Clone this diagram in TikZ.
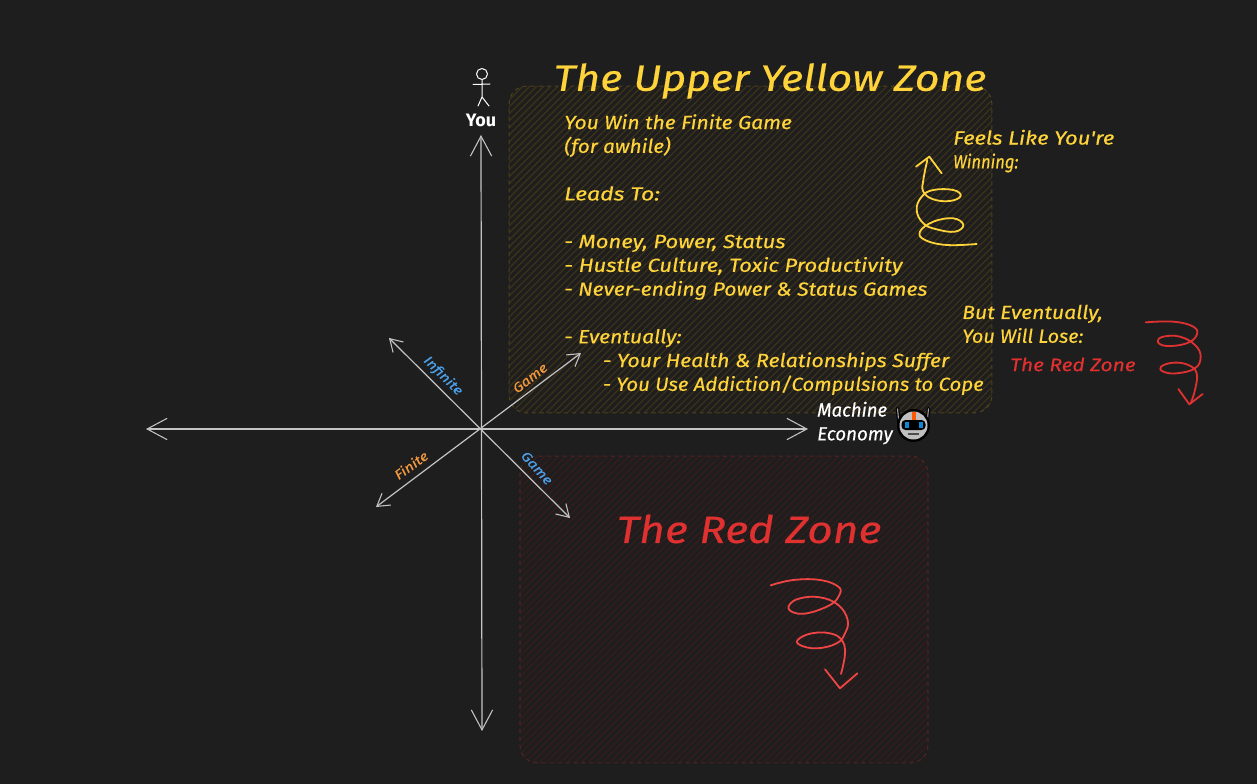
\documentclass[tikz,border=0pt]{standalone}
\usepackage{graphicx}
\usepackage{fontspec}
\setmainfont{Fira Sans}
\newfontfamily\handf[FakeStretch=1.165,FakeBold=0.4]{Fira Sans Italic}
\newcommand{\sx}[2]{\scalebox{#1}[1]{#2}}
\usetikzlibrary{arrows.meta}
\definecolor{bgc}{HTML}{1E1E1E}
\definecolor{yel}{HTML}{FFD43B}
\definecolor{redt}{HTML}{E03131}
\definecolor{reds}{HTML}{F04545}
\definecolor{blu}{HTML}{4A9FE8}
\definecolor{ora}{HTML}{F0983E}
\definecolor{axisc}{HTML}{C4C4C4}
\definecolor{yh}{HTML}{3F3419}
\definecolor{ye}{HTML}{4C411E}
\definecolor{rh}{HTML}{3F1B1B}
\definecolor{re}{HTML}{502424}
\tikzset{
  x=0.75pt,y=-0.75pt,
  axisline/.style={draw=axisc,line width=0.9pt,{Straight Barb[length=15pt,width=16pt,line width=0.8pt]}-{Straight Barb[length=15pt,width=16pt,line width=0.8pt]}},
  diagline/.style={draw=axisc,line width=0.9pt,{Straight Barb[length=9pt,width=11pt,line width=0.8pt]}-{Straight Barb[length=9pt,width=11pt,line width=0.8pt]}},
  hand/.style={font=\handf\fontsize{14.2}{17.85}\selectfont,inner sep=0pt,anchor=west,align=left},
  titletext/.style={font=\handf\fontsize{27.5}{30}\selectfont,inner sep=0pt},
  smalllabel/.style={font=\handf\fontsize{10}{12}\selectfont,inner sep=0pt},
  spiral/.style={line width=1.35pt,line cap=round,line join=round},
}
\begin{document}
\begin{tikzpicture}
\useasboundingbox (0,0) rectangle (1257,784);
\fill[bgc] (0,0) rectangle (1257,784);
% zones
\begin{scope}
  \clip[rounded corners=13pt] (509,86) rectangle (992,413);
  \foreach \i in {-800,-793,...,1300}{\draw[yh,line width=0.8pt] (\i,800) -- (\i+800,0);}
\end{scope}
\node[draw=ye,dashed,line width=0.8pt,rounded corners=13pt,minimum width=362pt,minimum height=245pt,inner sep=0pt] (yzone) at (750.5,249.5) {};
\begin{scope}
  \clip[rounded corners=13pt] (520,456) rectangle (928,763);
  \foreach \i in {-800,-793,...,1300}{\draw[rh,line width=0.75pt] (\i,800) -- (\i+800,0);}
\end{scope}
\node[draw=re,dashed,line width=0.8pt,rounded corners=13pt,minimum width=306pt,minimum height=230pt,inner sep=0pt] (rzone) at (724,609.5) {};
% axes
\coordinate (top) at (481,135);
\coordinate (bottom) at (482,731);
\coordinate (left) at (146,429);
\coordinate (right) at (808,429);
\coordinate (nw) at (389,338);
\coordinate (se) at (570,518);
\coordinate (sw) at (376,507);
\coordinate (ne) at (581,353);
\draw[axisline] (top) -- (bottom);
\draw[axisline] (left) -- (right);
\draw[diagline] (nw) -- (se);
\draw[diagline] (sw) -- (ne);
% stick figure
\draw[white,line width=0.75pt,line cap=round] (482,74) circle[radius=5.5]
  (482,79.5) -- (482,97) (473,84.5) -- (490,84) (478,106) -- (482,97) -- (489,106);
\node[font=\bfseries\fontsize{13.5}{16}\selectfont,text=white,inner sep=0pt] (you) at (481,120) {You};
% titles
\node[titletext,text=yel] (ytitle) at (770,81) {The Upper Yellow Zone};
\node[titletext,text=redt,font=\handf\fontsize{28.5}{30}\selectfont] (rtitle) at (749,529) {The Red Zone};
% text
\node[hand,text=yel,anchor=north west] (main) at (564,114) {\sx{.955}{You Win the Finite Game}\\\sx{.94}{(for awhile)}\\[17.85pt]\sx{1.05}{Leads To:}\\[17.85pt]- Money, Power, Status\\- Hustle Culture, Toxic Productivity\\\sx{.965}{- Never-ending Power \& Status Games}\\[17.85pt]\sx{.96}{- Eventually:}\\\hspace*{29pt}\sx{.97}{- Your Health \& Relationships Suffer}\\\hspace*{29pt}\sx{.927}{- You Use Addiction/Compulsions to Cope}};
\node[hand,text=yel,anchor=north west] (feels) at (953,129.5) {Feels Like You're\\\sx{.75}{Winning:}};
\node[hand,text=yel,anchor=north west] (but) at (962,304.5) {\sx{.96}{But Eventually,}\\\sx{.9}{You Will Lose:}};
\node[hand,text=redt,font=\handf\fontsize{13.5}{16}\selectfont] (rz) at (1010,364.5) {The Red Zone};
\node[hand,text=white,anchor=north west] (mach) at (817,401.5) {\sx{.84}{Machine}\\\sx{.85}{Economy}};
% axis labels
\node[smalllabel,text=blu,rotate=-45] (inf) at (443,376) {Infinite};
\node[smalllabel,text=ora,rotate=38] (game1) at (530,378) {Game};
\node[smalllabel,text=ora,rotate=36] (fin) at (411,465) {Finite};
\node[smalllabel,text=blu,rotate=-48] (game2) at (537,468) {Game};
% yellow spiral
\begin{scope}[shift={(890,120)},x=0.25pt,y=-0.25pt]
\draw[yel,spiral] plot[smooth,tension=.7] coordinates {(260,372)(170,375)(105,360)(90,335)(130,305)(190,295)(220,315)(195,335)(140,328)(100,310)(80,270)(95,230)(130,210)(190,210)(212,228)(180,243)(130,238)(100,215)(100,180)(112,120)};
\draw[yel,spiral] (78,140) -- (118,110) -- (155,160);
\end{scope}
% small red spiral
\begin{scope}[shift={(780,290)},x=0.25pt,y=-0.25pt]
\draw[redt,spiral] plot[smooth,tension=.7] coordinates {(1097,97)(1180,95)(1240,110)(1250,135)(1220,160)(1160,168)(1133,155)(1150,140)(1200,140)(1245,165)(1262,200)(1245,235)(1190,250)(1150,245)(1143,230)(1180,218)(1225,225)(1250,250)(1245,300)(1232,340)};
\draw[redt,spiral] (1195,297) -- (1228,343) -- (1268,312);
\end{scope}
% large red spiral
\begin{scope}[shift={(740,560)},x=0.25pt,y=-0.25pt]
\draw[reds,spiral] plot[smooth,tension=.7] coordinates {(92,76)(160,60)(240,60)(295,80)(298,105)(270,135)(200,160)(155,155)(148,135)(180,115)(240,112)(295,135)(323,180)(315,220)(290,250)(230,265)(180,255)(175,238)(215,220)(270,220)(305,240)(315,280)(303,342)};
\draw[reds,spiral] (255,328) -- (300,385) -- (352,340);
\end{scope}
% robot
\draw[black,line width=2.6pt,line cap=round] (897.5,408.5) -- (899,424) (928.5,408.5) -- (927,424);
\draw[gray!70,line width=0.8pt] (897.5,408.5) -- (899,424) (928.5,408.5) -- (927,424);
\fill[black] (913.5,425.5) circle[radius=16.5];
\fill[black!25] (913.5,425.5) circle[radius=14];
\fill[orange!70!red] (911.5,412) rectangle (915.5,420);
\fill[black,rounded corners=3pt] (901.5,420) rectangle (925.5,430);
\fill[cyan!70!blue] (904.5,422) rectangle (908.5,428);
\fill[cyan!70!blue] (918.5,422) rectangle (922.5,428);
\draw[black!70,line width=0.9pt] (908,434) -- (919,434);
\end{tikzpicture}
\end{document}
